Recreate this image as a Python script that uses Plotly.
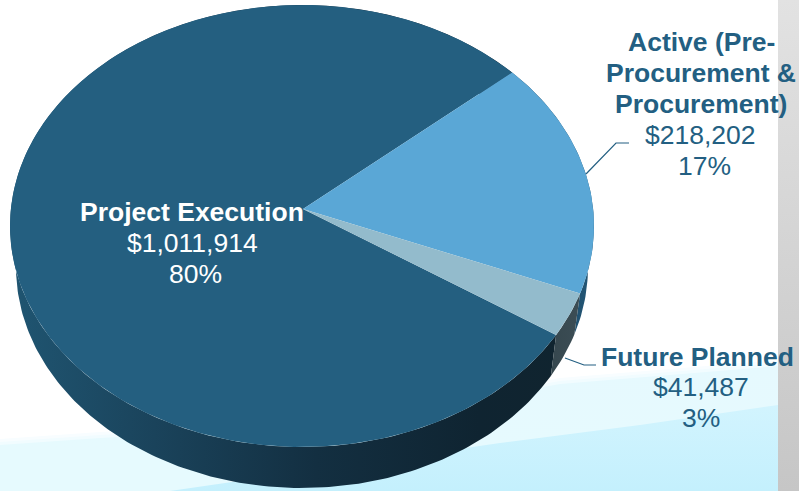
import numpy as np
import plotly.graph_objects as go

# Budget breakdown
categories = ["Project Execution", "Active (Pre-<br>Procurement &<br>Procurement)", "Future Planned"]
amounts = [1011914, 218202, 41487]

TOP_COLORS = ["#245F80", "#5AA7D6", "#93BBCC"]
TEXT_BLUE = "#235F82"

# Projected disc geometry, in page pixels
CX, CY, RX, RY = 302, 226, 292, 221
BOTTOM_CY, BOTTOM_RX, BOTTOM_RY = 267, 286, 221
APEX = (303, 209)
FIRST_EDGE_DEG = 44.0  # rim angle where the Active slice begins; slices run clockwise


def rim(deg, cx, cy, rx, ry):
    t = np.radians(deg)
    return cx + rx * np.cos(t), cy - ry * np.sin(t)


def arc_angles(a0, a1):
    n = max(2, int(abs(a1 - a0)))
    return np.linspace(a0, a1, n + 1)


fig = go.Figure()


def band(xs, ys, **kw):
    fig.add_trace(go.Scatter(x=xs, y=ys, mode="lines", fill="toself", line=dict(width=0),
                             hoverinfo="skip", showlegend=False, **kw))


# Backdrop: pale swooshes with feathered upper edges, and the grey strip on the right
swoosh_x = [0, 100, 330, 560, 778]
swoosh_y = [445, 438, 425, 384, 366]
for lift, tint in [(6, "#F8FDFF"), (3, "#F1FCFF")]:
    band(swoosh_x + [778, 0], [v - lift for v in swoosh_y] + [491, 491], fillcolor=tint)
band(swoosh_x + [778, 0], swoosh_y + [491, 491],
     fillgradient=dict(type="vertical", start=366, stop=450,
                       colorscale=[[0, "#E6F9FE"], [1, "#E6FAFE"]]))
band([170, 500, 640, 778, 778, 170], [491, 443, 425, 405, 491, 491],
     fillgradient=dict(type="vertical", start=405, stop=491,
                       colorscale=[[0, "#D2F4FE"], [1, "#C4F0FD"]]))
band([778, 799, 799, 778], [0, 0, 491, 491],
     fillgradient=dict(type="vertical", start=0, stop=491,
                       colorscale=[[0, "#E2E2E2"], [1, "#C6C6C6"]]))

# Slice extents along the rim, from the amounts
total = sum(amounts)
sweeps = [360 * a / total for a in amounts]
active_start = FIRST_EDGE_DEG
future_start = active_start - sweeps[1]
project_start = future_start - sweeps[2]
project_end = project_start - sweeps[0]
extents = [(project_start, project_end), (active_start, future_start), (future_start, project_start)]

# Side wall of the disc, one band per slice
wall_fills = [
    dict(type="horizontal", start=20, stop=560,
         colorscale=[[0, "#1F5470"], [0.25, "#1A435B"], [0.55, "#132F41"], [0.85, "#0F2431"], [1, "#10242F"]]),
    dict(type="horizontal", start=550, stop=595,
         colorscale=[[0, "#1C4763"], [1, "#245878"]]),
    dict(type="horizontal", start=550, stop=590,
         colorscale=[[0, "#36474E"], [1, "#3D4F57"]]),
]
for (a0, a1), grad in zip(extents, wall_fills):
    ang = arc_angles(a0, a1)
    tx, ty = rim(ang, CX, CY, RX, RY)
    bx, by = rim(ang[::-1], CX, BOTTOM_CY, BOTTOM_RX, BOTTOM_RY)
    band(list(tx) + list(bx), list(ty) + list(by), fillgradient=grad)

# Top face of the disc
for (a0, a1), color in zip(extents, TOP_COLORS):
    ang = arc_angles(a0, a1)
    x, y = rim(ang, CX, CY, RX, RY)
    band([APEX[0]] + list(x) + [APEX[0]], [APEX[1]] + list(y) + [APEX[1]], fillcolor=color)

# Leader lines
for xs, ys in [([586, 616, 629], [174, 143, 143]), ([565, 584, 596], [358, 365, 365])]:
    fig.add_trace(go.Scatter(x=xs, y=ys, mode="lines", line=dict(color=TEXT_BLUE, width=1.2),
                             hoverinfo="skip", showlegend=False))

# Slice labels: name, amount, share, one annotation per line for a tighter pitch
LINE_PITCH = 30.9
name_anchor = [(192, 212), (701, 42), (697, 356.5)]
amount_x = [192, 700, 701]
share_x = [195.5, 704, 701]
label_colors = ["#FFFFFF", TEXT_BLUE, TEXT_BLUE]
for name, amt, (nx, ny), ax_, sx, col in zip(categories, amounts, name_anchor, amount_x, share_x, label_colors):
    parts = name.split("<br>")
    rows = [(nx, f"<b>{p}</b>") for p in parts] + [(ax_, f"${amt:,}"), (sx, f"{amt / total:.0%}")]
    for i, (lx, line) in enumerate(rows):
        fig.add_annotation(x=lx, y=ny + i * LINE_PITCH, xanchor="center", yanchor="middle",
                           showarrow=False, text=line,
                           font=dict(family="Liberation Sans, Arial, sans-serif", size=26.5, color=col))

fig.update_layout(
    width=799, height=491, margin=dict(l=0, r=0, t=0, b=0),
    paper_bgcolor="#FFFFFF", plot_bgcolor="#FFFFFF", showlegend=False,
    xaxis=dict(range=[0, 799], visible=False, fixedrange=True),
    yaxis=dict(range=[491, 0], visible=False, fixedrange=True),
)
fig.write_html("out.html", config=dict(displayModeBar=False))
